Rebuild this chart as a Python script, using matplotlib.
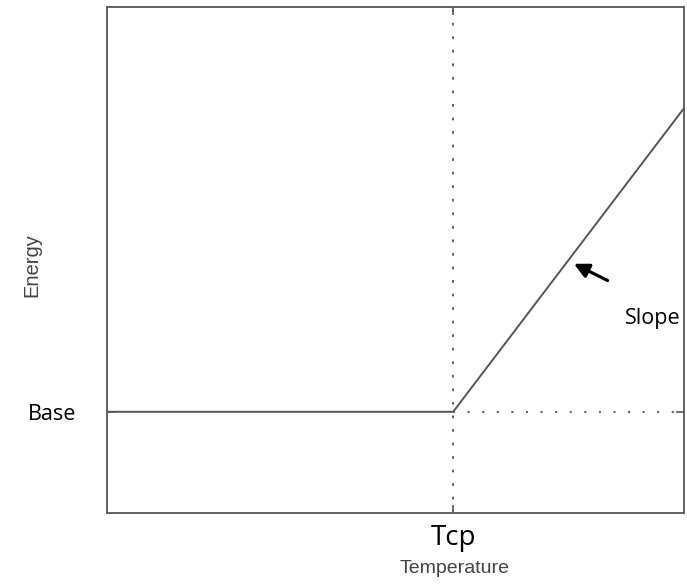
import matplotlib.pyplot as plt

# change-point model: flat base load, then linear rise above Tcp
temp = [0, 6, 10]
energy = [2, 2, 8]
tcp = 6
base = 2
xlim = (0, 10)
ylim = (0, 10)

fig = plt.figure(figsize=(6.87, 5.85), dpi=100)
ax = fig.add_axes([0.1557, 0.1231, 0.8399, 0.8649])

ax.plot(temp, energy, color='#555555', lw=1.4)
ax.axvline(tcp, color='#555555', lw=1.3, ls=(0, (1.5, 6)))
ax.plot([tcp, xlim[1]], [base, base], color='#666666', lw=1.5, ls=(0, (1, 6)))

ax.set_xlim(*xlim)
ax.set_ylim(*ylim)

ax.set_xticks([tcp])
ax.set_xticklabels(['Tcp'], fontsize=20, family='Open Sans')
ax.set_yticks([base])
ax.set_yticklabels(['Base'], fontsize=15.5, family='Open Sans')
ax.tick_params(direction='in', length=6, width=1.2, color='#555555',
               top=True, right=True)
ax.tick_params(axis='x', pad=8)
ax.tick_params(axis='y', pad=22)

for s in ax.spines.values():
    s.set_color('#555555')
    s.set_linewidth(1.3)

ax.set_xlabel('Temperature', fontsize=14, color='#444444', family='Liberation Sans')
ax.set_ylabel('Energy', fontsize=14.5, color='#444444', family='Liberation Sans')
ax.xaxis.set_label_coords(0.603, -0.092)
ax.yaxis.set_label_coords(-0.113, 0.49)

ax.annotate('', xy=(8.05, 4.95), xytext=(8.72, 4.57),
            arrowprops=dict(arrowstyle='-|>', color='black', lw=2.3, mutation_scale=22))
ax.text(8.98, 3.85, 'Slope', fontsize=15.5, family='Open Sans', ha='left', va='center')

fig.savefig('out.png', dpi=100)
